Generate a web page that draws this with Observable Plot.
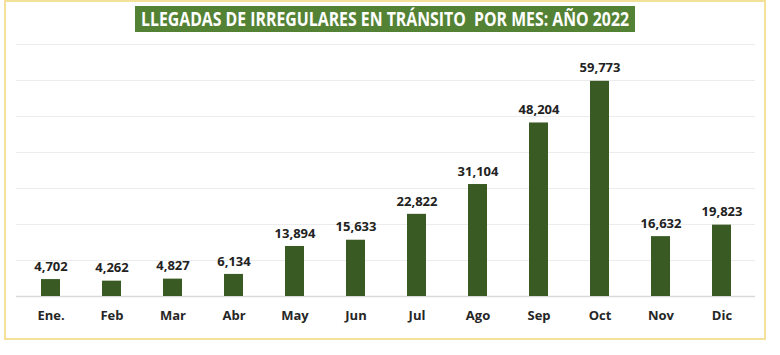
<!DOCTYPE html>
<html>
<head>
<meta charset="utf-8">
<script src="https://cdn.jsdelivr.net/npm/d3@7"></script>
<script src="https://cdn.jsdelivr.net/npm/@observablehq/plot@0.6"></script>
<style>
  html, body { margin: 0; padding: 0; background: #fff; }
  #wrap { position: relative; width: 780px; height: 355px; overflow: hidden; background: #fff; }
  #frame { position: absolute; left: 4px; top: 0px; width: 758px; height: 336px; border: 2px solid #f3e19a; box-sizing: content-box; }
  #title { position: absolute; left: 135px; top: 6px; width: 500px; height: 26px; background: #548235; color: #fff;
           font-family: "Open Sans", sans-serif; font-weight: 700; font-size: 20px; line-height: 26px; white-space: pre; overflow: hidden; }
  #ttext { position: absolute; left: 50%; top: 0; white-space: pre; transform-origin: center center; }
  #chart { position: absolute; left: 0; top: 0; }
</style>
</head>
<body>
<div id="wrap">
  <div id="frame"></div>
  <div id="chart"></div>
  <div id="title"><span id="ttext">LLEGADAS DE IRREGULARES EN TRÁNSITO  POR MES: AÑO 2022</span></div>
</div>
<script>
const months = ["Ene.", "Feb", "Mar", "Abr", "May", "Jun", "Jul", "Ago", "Sep", "Oct", "Nov", "Dic"];
const arrivals = [4702, 4262, 4827, 6134, 13894, 15633, 22822, 31104, 48204, 59773, 16632, 19823];
const gridTicks = [10000, 20000, 30000, 40000, 50000, 60000, 70000];

const data = months.map((m, i) => ({month: m, value: arrivals[i]}));
const fmt = d3.format(",");

const chart = Plot.plot({
  width: 780,
  height: 355,
  marginLeft: 16,
  marginRight: 25,
  marginTop: 44,
  marginBottom: 59,
  style: {fontFamily: "'Open Sans', sans-serif", background: "transparent"},
  x: {domain: months, paddingInner: 0.69, paddingOuter: 0.345, label: null, tickSize: 0, tickPadding: 12},
  y: {domain: [0, 70000], axis: null},
  marks: [
    Plot.ruleY(gridTicks, {stroke: "#ececec", strokeWidth: 1.2}),
    Plot.ruleY([0], {stroke: "#d9d9d9", strokeWidth: 1.5}),
    Plot.barY(data, {x: "month", y: "value", fill: "#3a5a24"}),
    Plot.text(data, {x: "month", y: "value", text: d => fmt(d.value), dy: -13, fontSize: 13, fontWeight: 700, fill: "#222"}),
    Plot.axisX({tickSize: 0, tickPadding: 14, fontSize: 13, fontWeight: 700, color: "#262626", label: null})
  ]
});
document.getElementById("chart").appendChild(chart);

// fit title text to the box width
const t = document.getElementById("ttext");
const w = t.getBoundingClientRect().width;
const target = 488;
t.style.transform = `translateX(-50%) scaleX(${target / w})`;
</script>
</body>
</html>
